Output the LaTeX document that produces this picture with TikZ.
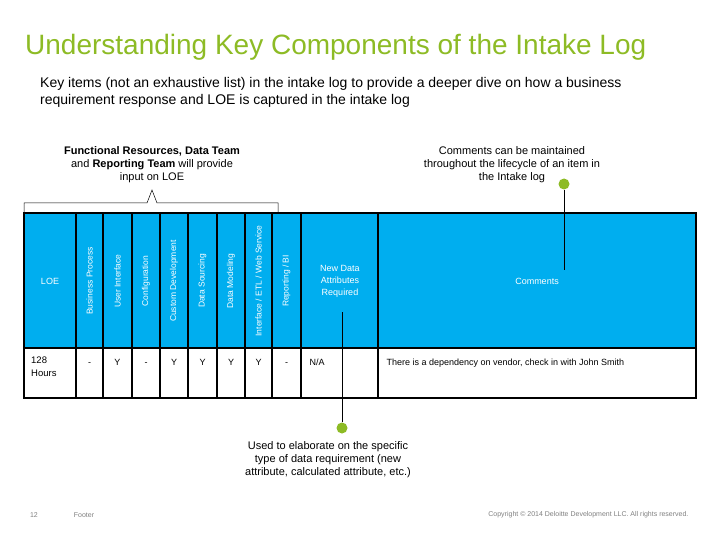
\documentclass[tikz,border=0pt]{standalone}
\usepackage{fontspec}
\setmainfont{Liberation Sans}
\definecolor{hblue}{HTML}{00AEEF}
\definecolor{dgreen}{HTML}{8DBB25}
\begin{document}
\begin{tikzpicture}[x=1pt,y=-1pt,
  hdr/.style={rotate=90,font=\fontsize{8.5}{10}\selectfont,text=white,anchor=center},
  cell/.style={font=\fontsize{9}{11}\selectfont,anchor=base},
  note/.style={font=\fontsize{11}{13}\selectfont,align=center},
  dot/.style={circle,fill=dgreen,minimum size=11pt,inner sep=0pt}]
\useasboundingbox (0,0) rectangle (720,540);
\node[anchor=west,text=dgreen,font=\fontsize{28}{32}\selectfont,inner sep=0pt] (title) at (25,47) {Understanding Key Components of the Intake Log};
\node[anchor=north west,align=left,font=\fontsize{14}{17}\selectfont,inner sep=0pt] (sub) at (40,77) {Key items (not an exhaustive list) in the intake log to provide a deeper dive on how a business\\requirement response and LOE is captured in the intake log};
% table
\fill[hblue] (24,213) rectangle (696,348);
\draw[line width=1.2pt] (24,213) rectangle (696,398);
\draw[line width=1.2pt] (24,348) -- (696,348);
\foreach \x in {76,103,132,160,188,217,245,272,301,378}
  \draw[line width=1.2pt] (\x,213) -- (\x,398);
\node[font=\fontsize{9}{11}\selectfont,text=white] (loe) at (50,281) {LOE};
\node[hdr] (h1) at (89.5,281) {Business Process};
\node[hdr] (h2) at (117.5,281) {User Interface};
\node[hdr] (h3) at (146,281) {Configuration};
\node[hdr] (h4) at (174,281) {Custom Development};
\node[hdr] (h5) at (202.5,281) {Data Sourcing};
\node[hdr] (h6) at (231,281) {Data Modeling};
\node[hdr] (h7) at (258.5,281) {Interface / ETL / Web Service};
\node[hdr] (h8) at (286.5,281) {Reporting / BI};
\node[font=\fontsize{9}{12}\selectfont,text=white,align=center] (h9) at (340,281) {New Data\\Attributes\\Required};
\node[font=\fontsize{9}{11}\selectfont,text=white] (h10) at (537,281) {Comments};
\node[font=\fontsize{9.5}{13}\selectfont,anchor=north west,align=left,inner sep=0pt] (c0) at (31,357) {128\\Hours};
\foreach \x/\t [count=\i] in {89.5/-,117.5/Y,146/-,174/Y,202.5/Y,231/Y,258.5/Y,286.5/-}
  \node[cell] (c\i) at (\x,365) {\t};
\node[cell,anchor=base west] (c9) at (306,365) {N/A};
\node[cell,anchor=base west] (c10) at (383,365) {There is a dependency on vendor, check in with John Smith};
% bracket
\draw[line width=0.5pt] (24,212) -- (24,203) -- (147,203) -- (152,190) -- (157,203) -- (278,203) -- (278,212);
\node[note,anchor=south] (n1) at (152,186) {\textbf{Functional Resources, Data Team}\\and \textbf{Reporting Team} will provide\\input on LOE};
\node[note,anchor=south] (n2) at (512,186) {Comments can be maintained\\throughout the lifecycle of an item in\\the Intake log};
% callouts
\node[dot] (d1) at (564,184) {};
\coordinate (e1) at (564,270);
\draw[line width=0.6pt] (d1) -- (e1);
\node[dot] (d2) at (342,428) {};
\coordinate (e2) at (342,312);
\draw[line width=0.6pt] (d2) -- (e2);
\node[note,anchor=north] (n3) at (328,438) {Used to elaborate on the specific\\type of data requirement (new\\attribute, calculated attribute, etc.)};
% footer
\node[font=\fontsize{7}{8}\selectfont,text=gray] (pg) at (34,515) {12};
\node[font=\fontsize{7}{8}\selectfont,text=gray] (ft) at (84,515) {Footer};
\node[font=\fontsize{7}{8}\selectfont,text=gray,anchor=east] (cp) at (692,515) {Copyright © 2014 Deloitte Development LLC. All rights reserved.};
\end{tikzpicture}
\end{document}
